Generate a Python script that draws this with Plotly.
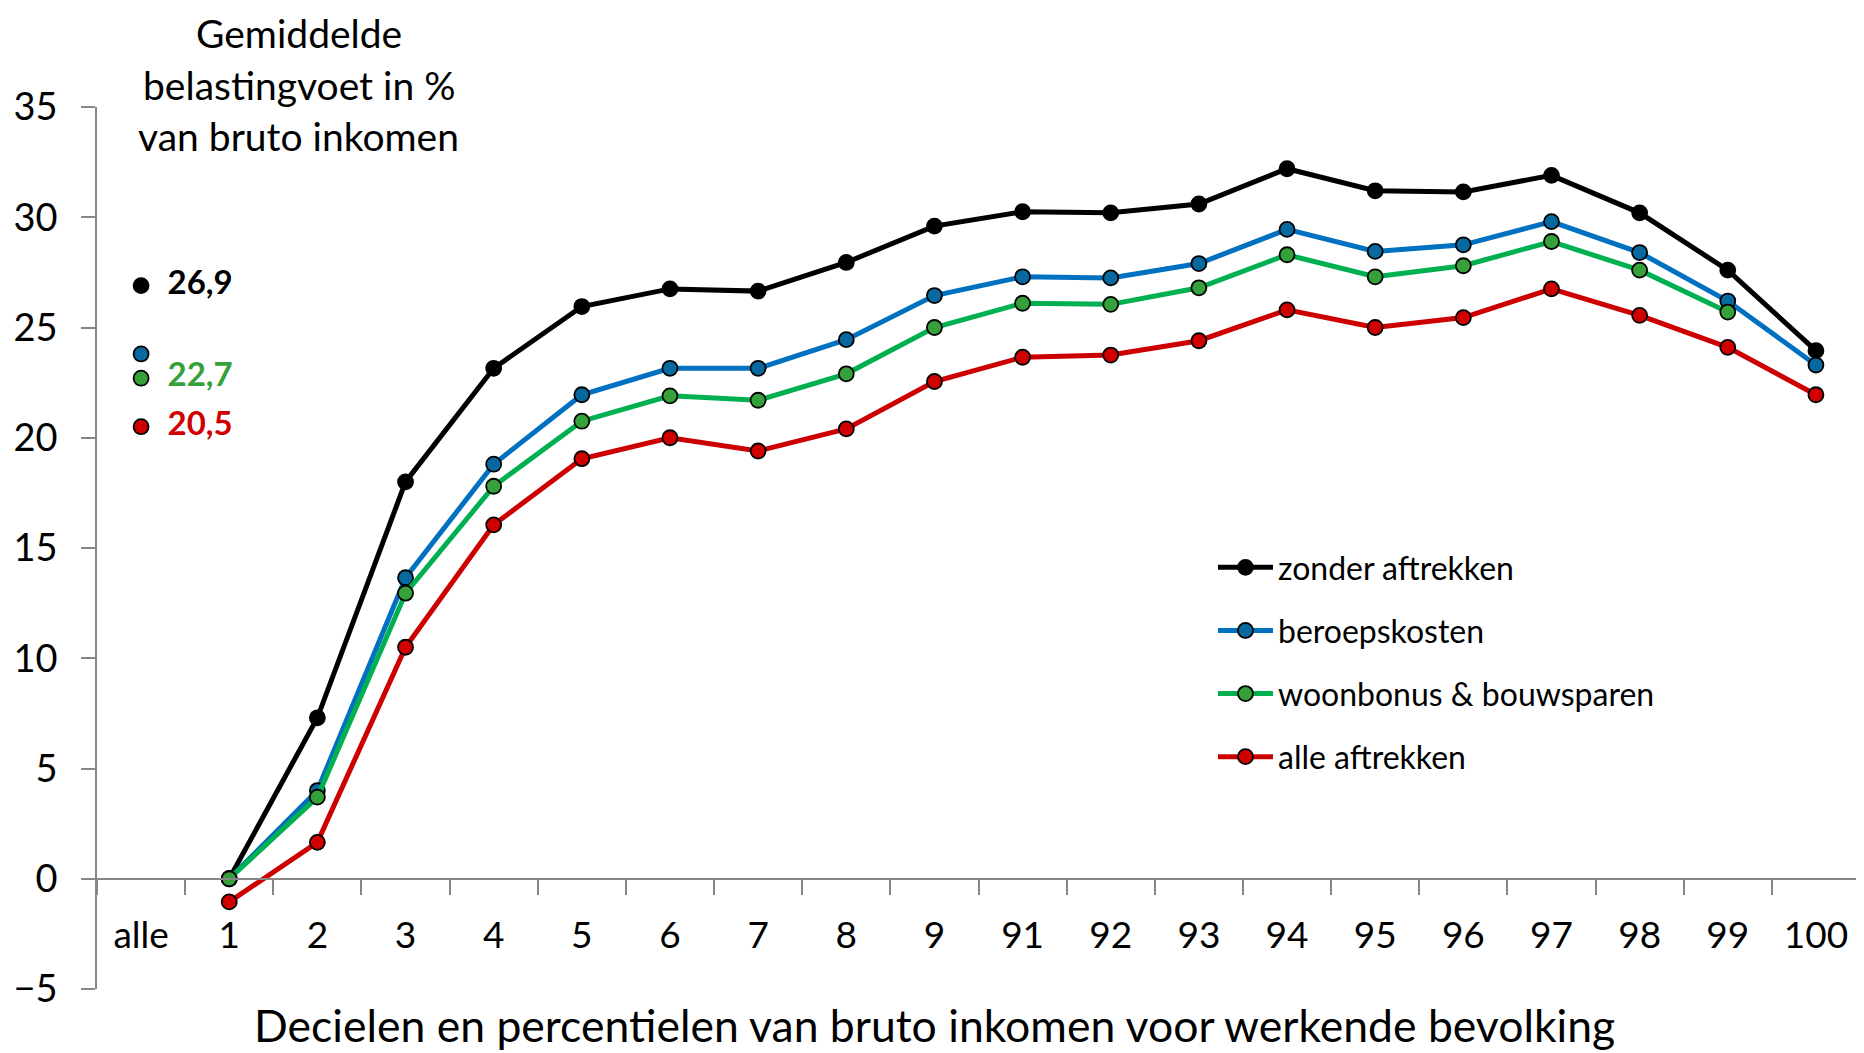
import plotly.graph_objects as go

categories = ["alle", "1", "2", "3", "4", "5", "6", "7", "8", "9",
              "91", "92", "93", "94", "95", "96", "97", "98", "99", "100"]
series_names = ["zonder aftrekken", "beroepskosten", "woonbonus & bouwsparen", "alle aftrekken"]

zonder_aftrekken = [26.9, 0.0, 7.3, 18.0, 23.15, 25.95, 26.75, 26.65, 27.95, 29.6,
                    30.25, 30.2, 30.6, 32.2, 31.2, 31.15, 31.9, 30.2, 27.6, 23.95]
beroepskosten = [23.8, 0.0, 4.0, 13.65, 18.8, 21.95, 23.15, 23.15, 24.45, 26.45,
                 27.3, 27.25, 27.9, 29.45, 28.45, 28.75, 29.8, 28.4, 26.2, 23.3]
woonbonus = [22.7, 0.0, 3.7, 12.95, 17.8, 20.75, 21.9, 21.7, 22.9, 25.0,
             26.1, 26.05, 26.8, 28.3, 27.3, 27.8, 28.9, 27.6, 25.7, None]
alle_aftrekken = [20.5, -1.05, 1.65, 10.5, 16.05, 19.05, 20.0, 19.4, 20.4, 22.55,
                  23.65, 23.75, 24.4, 25.8, 25.0, 25.45, 26.75, 25.55, 24.1, 21.95]

# whether the "alle" point carries a value label
show_label = [True, False, True, True]

line_colors = ["#000000", "#0070C0", "#00B050", "#CC0000"]
marker_colors = ["#000000", "#0868A0", "#36A03A", "#D00000"]
label_colors = ["#000000", "#0868A0", "#36A03A", "#D00000"]

y_ticks = [-5, 0, 5, 10, 15, 20, 25, 30, 35]
x_title = "Decielen en percentielen van bruto inkomen voor werkende bevolking"
y_title_lines = ["Gemiddelde", "belastingvoet in %", "van bruto inkomen"]

FONT = "Lato"

fig = go.Figure()
all_series = [zonder_aftrekken, beroepskosten, woonbonus, alle_aftrekken]

for i, (name, vals) in enumerate(zip(series_names, all_series)):
    fig.add_trace(go.Scatter(
        x=categories[1:], y=vals[1:], name=name, mode="lines+markers",
        legendgroup=name,
        line=dict(color=line_colors[i], width=5),
        marker=dict(size=15, color=marker_colors[i], line=dict(color="#000000", width=1.8)),
        connectgaps=False,
    ))

for i, (name, vals) in enumerate(zip(series_names, all_series)):
    txt = ("  " + f"{vals[0]:.1f}".replace(".", ",")) if show_label[i] else ""
    fig.add_trace(go.Scatter(
        x=categories[:1], y=vals[:1], mode="markers+text", showlegend=False,
        text=[txt], textposition="middle right",
        textfont=dict(family=FONT, size=33, color=label_colors[i], weight="bold"),
        marker=dict(size=15, color=marker_colors[i], line=dict(color="#000000", width=1.8)),
        legendgroup=name,
    ))

# y-axis title block: one annotation per line, so each line sits on its own
title_annotations = []
for k, line in enumerate(y_title_lines):
    title_annotations.append(dict(
        text=line, xref="paper", yref="paper", x=0.1143,
        y=1.0255 + (1 - k) * 51.5 / 882,
        xanchor="center", yanchor="middle", showarrow=False,
        font=dict(family=FONT, size=39, color="#000000")))

# page has an 8px body margin, so the figure is sized to fit the 1864x1053 window
fig.update_layout(
    width=1856, height=1045,
    margin=dict(l=88.5, r=4, t=99, b=64, autoexpand=False),
    paper_bgcolor="white", plot_bgcolor="white",
    font=dict(family=FONT, color="#000000"),
    showlegend=True,
    legend=dict(
        x=0.633, y=0.509, xanchor="left", yanchor="top",
        font=dict(family=FONT, size=32, color="#000000"),
        bgcolor="rgba(0,0,0,0)", traceorder="grouped", tracegroupgap=18.5,
        itemwidth=55,
    ),
    xaxis=dict(
        type="category", categoryorder="array", categoryarray=categories,
        range=[-0.5, len(categories) - 0.5],
        anchor="free", position=5 / 40, automargin=False,
        showline=True, linecolor="#868686", linewidth=2,
        ticks="outside", tickson="boundaries", ticklen=15, tickcolor="#868686", tickwidth=1.5,
        tickfont=dict(family=FONT, size=37, color="#000000"),
        ticklabelstandoff=24,
        showgrid=False, zeroline=False,
    ),
    yaxis=dict(
        range=[-5, 35], tickvals=y_ticks, domain=[0, 1], automargin=False,
        showline=True, linecolor="#868686", linewidth=1.5,
        ticks="outside", ticklen=14, tickcolor="#868686", tickwidth=1.5,
        tickfont=dict(family=FONT, size=38, color="#000000"),
        ticklabelstandoff=16,
        showgrid=False, zeroline=False,
    ),
    annotations=title_annotations + [
        dict(text=x_title, xref="paper", yref="paper", x=0.4749, y=-0.0408,
             xanchor="center", yanchor="middle", showarrow=False,
             font=dict(family=FONT, size=44.5, color="#000000")),
    ],
)

fig.write_html("out.html")
